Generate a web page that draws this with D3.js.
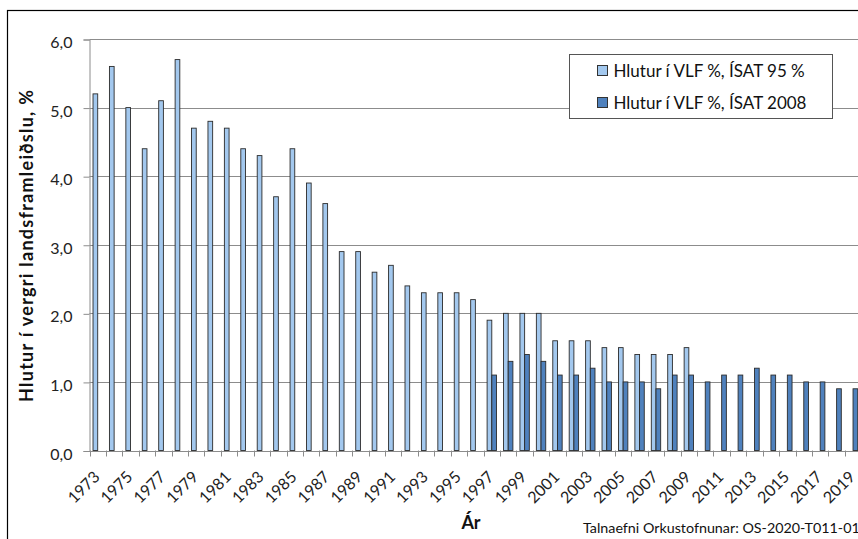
<!DOCTYPE html>
<html>
<head>
<meta charset="utf-8">
<script src="https://cdn.jsdelivr.net/npm/d3@7"></script>
<style>
  html, body { margin: 0; padding: 0; background: #fff; overflow: hidden; }
  svg { display: block; font-family: Lato, "Open Sans", sans-serif; }
</style>
</head>
<body>
<div id="chart"></div>
<script>
// ar (flokkar)
var years = [1973, 1974, 1975, 1976, 1977, 1978, 1979, 1980, 1981, 1982,
             1983, 1984, 1985, 1986, 1987, 1988, 1989, 1990, 1991, 1992,
             1993, 1994, 1995, 1996, 1997, 1998, 1999, 2000, 2001, 2002,
             2003, 2004, 2005, 2006, 2007, 2008, 2009, 2010, 2011, 2012,
             2013, 2014, 2015, 2016, 2017, 2018, 2019];

// Hlutur i VLF %, ISAT 95 %
var isat95 = [5.2, 5.6, 5.0, 4.4, 5.1, 5.7, 4.7, 4.8, 4.7, 4.4,
              4.3, 3.7, 4.4, 3.9, 3.6, 2.9, 2.9, 2.6, 2.7, 2.4,
              2.3, 2.3, 2.3, 2.2, 1.9, 2.0, 2.0, 2.0, 1.6, 1.6,
              1.6, 1.5, 1.5, 1.4, 1.4, 1.4, 1.5, null, null, null,
              null, null, null, null, null, null, null];

// Hlutur i VLF %, ISAT 2008
var isat2008 = [null, null, null, null, null, null, null, null, null, null,
                null, null, null, null, null, null, null, null, null, null,
                null, null, null, null, 1.1, 1.3, 1.4, 1.3, 1.1, 1.1,
                1.2, 1.0, 1.0, 1.0, 0.9, 1.1, 1.1, 1.0, 1.1, 1.1,
                1.2, 1.1, 1.1, 1.0, 1.0, 0.9, 0.9];

var seriesNames = ["Hlutur í VLF %, ÍSAT 95 %", "Hlutur í VLF %, ÍSAT 2008"];
var seriesColors = ["#a3c8ee", "#4f81bd"];
var yTicks = [0, 1, 2, 3, 4, 5, 6];

var width = 858, height = 539;
var plotLeft = 89.5, step = 16.42;
var plotTop = 39, plotBottom = 450.5;

var svg = d3.select("#chart").append("svg")
    .attr("width", width)
    .attr("height", height);

// rammi
svg.append("rect")
    .attr("x", 7.5).attr("y", 10.5)
    .attr("width", 900).attr("height", 600)
    .attr("fill", "#fff")
    .attr("stroke", "#000")
    .attr("stroke-width", 1.2);

var x = d3.scaleBand()
    .domain(years)
    .range([plotLeft, plotLeft + step * years.length]);

var xs = d3.scaleBand()
    .domain([0, 1])
    .range([0, x.bandwidth()])
    .paddingOuter(0.75);

var y = d3.scaleLinear()
    .domain([0, 6])
    .range([plotBottom, plotTop]);

// grid
svg.append("g")
    .selectAll("line")
    .data(yTicks.slice(1))
    .enter().append("line")
    .attr("x1", plotLeft).attr("x2", width)
    .attr("y1", function (d) { return Math.round(y(d)) + 0.5; })
    .attr("y2", function (d) { return Math.round(y(d)) + 0.5; })
    .attr("stroke", "#8c8c8c")
    .attr("stroke-width", 1);

// y axis
var yAxis = svg.append("g")
    .attr("transform", "translate(" + plotLeft + ",0.5)")
    .call(d3.axisLeft(y)
        .tickValues(yTicks)
        .tickSize(6)
        .tickPadding(11)
        .tickFormat(function (d) { return d3.format(".1f")(d).replace(".", ","); }));
yAxis.select(".domain").attr("stroke", "#8c8c8c");
yAxis.selectAll(".tick line").attr("stroke", "#8c8c8c");
yAxis.selectAll("text")
    .attr("font-family", "Lato, sans-serif")
    .attr("font-size", 16)
    .attr("dy", "0.5em")
    .attr("fill", "#222");

// bars
var series = [isat95, isat2008];
series.forEach(function (vals, s) {
    svg.append("g")
        .selectAll("rect")
        .data(years.map(function (yr, i) { return { year: yr, value: vals[i] }; })
            .filter(function (d) { return d.value !== null; }))
        .enter().append("rect")
        .attr("x", function (d) { return x(d.year) + xs(s); })
        .attr("y", function (d) { return y(d.value); })
        .attr("width", xs.bandwidth())
        .attr("height", function (d) { return plotBottom - y(d.value); })
        .attr("fill", seriesColors[s])
        .attr("stroke", "#2b2b2b")
        .attr("stroke-width", 0.9);
});

// x axis
var xAxis = svg.append("g")
    .attr("transform", "translate(0," + (plotBottom + 0.5) + ")")
    .call(d3.axisBottom(x).tickSize(0).tickFormat(function (d) { return d % 2 === 1 ? d : ""; }));
xAxis.select(".domain").attr("stroke", "#8c8c8c");
xAxis.selectAll(".tick text")
    .attr("font-family", "Lato, sans-serif")
    .attr("font-size", 16)
    .attr("fill", "#222")
    .attr("text-anchor", "end")
    .attr("x", 0)
    .attr("y", 0)
    .attr("dy", 0)
    .attr("transform", "translate(3,27) rotate(-45)");

// category ticks
svg.append("g")
    .selectAll("line")
    .data(years)
    .enter().append("line")
    .attr("x1", function (d) { return Math.round(x(d)) + 0.5; })
    .attr("x2", function (d) { return Math.round(x(d)) + 0.5; })
    .attr("y1", plotBottom)
    .attr("y2", plotBottom + 6)
    .attr("stroke", "#8c8c8c");

// titles
svg.append("text")
    .attr("transform", "translate(33,246) rotate(-90)")
    .attr("text-anchor", "middle")
    .attr("font-family", "Lato, sans-serif")
    .attr("font-weight", "bold")
    .attr("font-size", 18)
    .attr("textLength", 312)
    .attr("lengthAdjust", "spacing")
    .attr("fill", "#111")
    .text("Hlutur í vergri landsframleiðslu, %");

svg.append("text")
    .attr("x", 471)
    .attr("y", 529)
    .attr("text-anchor", "middle")
    .attr("font-family", "Lato, sans-serif")
    .attr("font-weight", "bold")
    .attr("font-size", 18)
    .attr("fill", "#111")
    .text("Ár");

svg.append("text")
    .attr("x", 583)
    .attr("y", 533)
    .attr("font-family", "Lato, sans-serif")
    .attr("font-size", 14.3)
    .attr("fill", "#111")
    .text("Talnaefni Orkustofnunar: OS-2020-T011-01");

// legend
var legend = svg.append("g").attr("transform", "translate(569.5,54.5)");
legend.append("rect")
    .attr("width", 263)
    .attr("height", 64)
    .attr("fill", "#fff")
    .attr("stroke", "#555")
    .attr("stroke-width", 1);

var item = legend.selectAll(".item")
    .data(seriesNames)
    .enter().append("g")
    .attr("transform", function (d, i) { return "translate(28," + (11 + i * 32) + ")"; });
item.append("rect")
    .attr("width", 10)
    .attr("height", 10)
    .attr("fill", function (d, i) { return seriesColors[i]; })
    .attr("stroke", "#333");
item.append("text")
    .attr("x", 16)
    .attr("y", 11)
    .attr("font-family", "Lato, sans-serif")
    .attr("font-size", 17)
    .attr("fill", "#111")
    .text(function (d) { return d; });
</script>
</body>
</html>
